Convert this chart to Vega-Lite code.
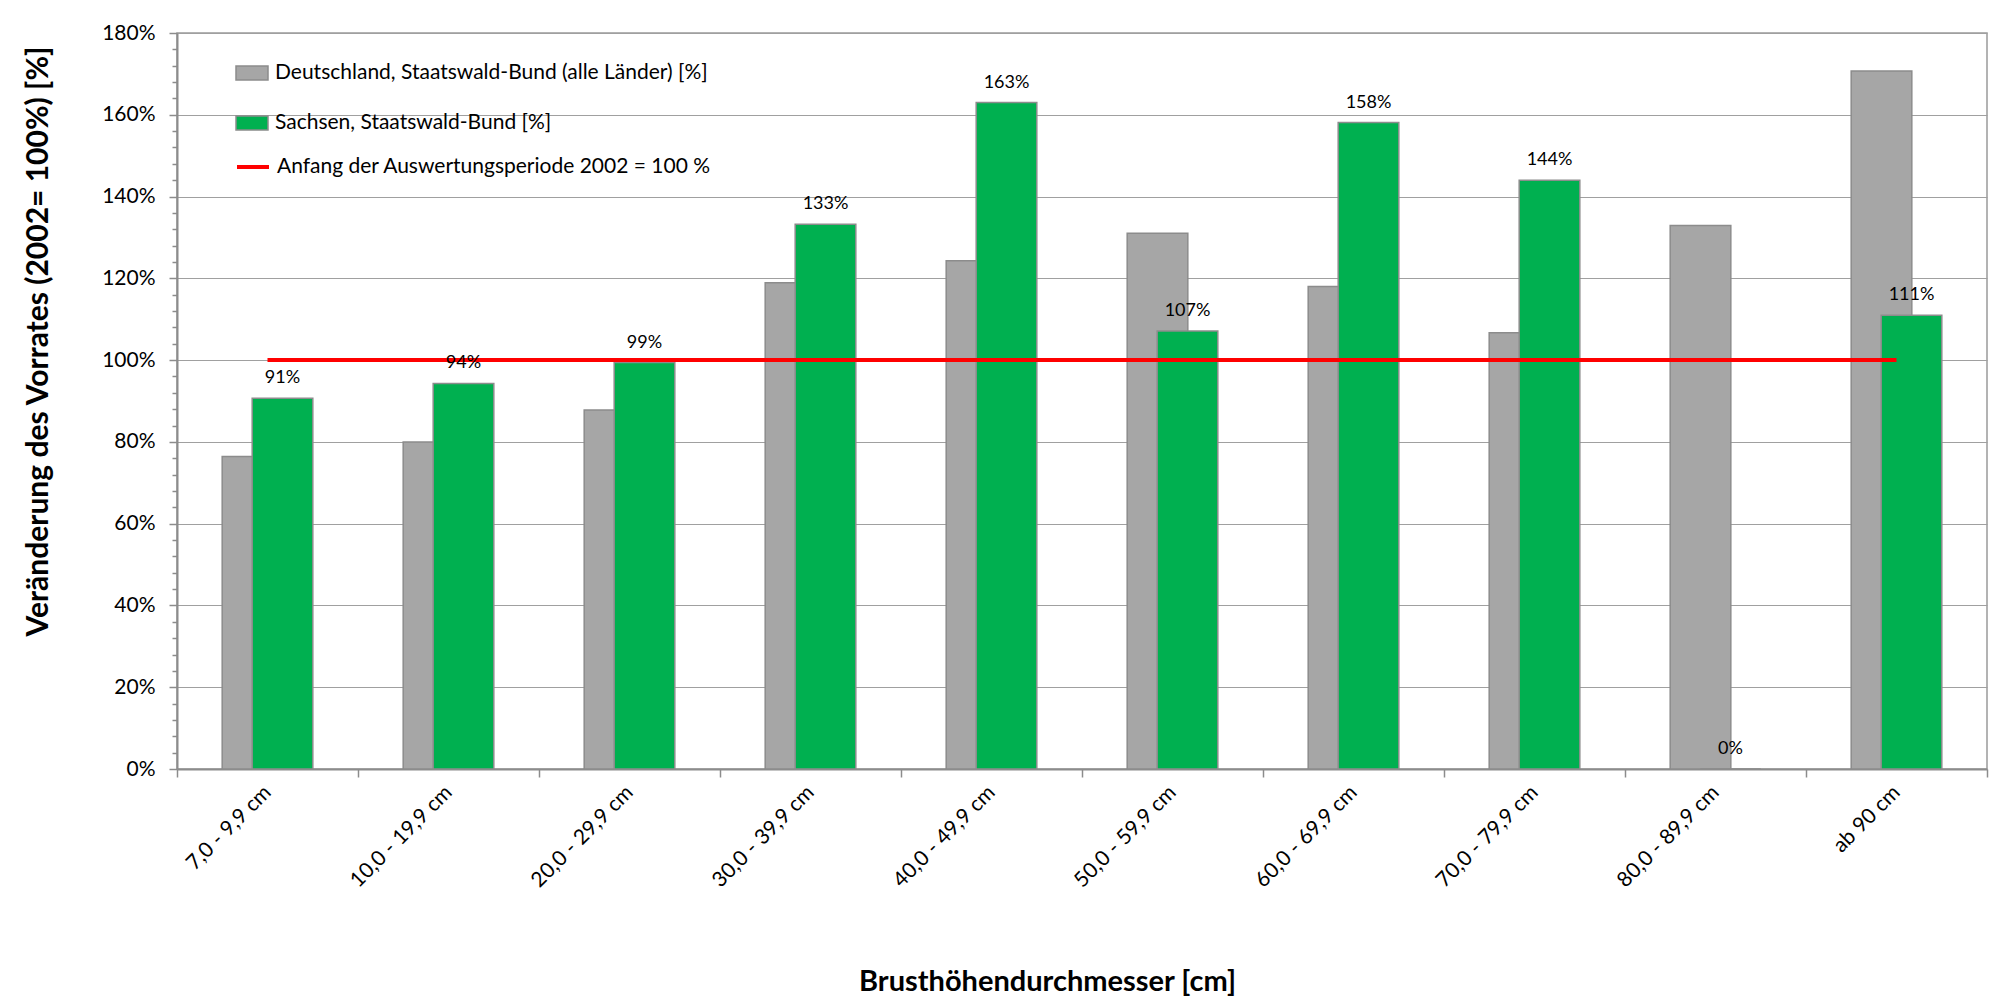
{
  "$schema": "https://vega.github.io/schema/vega-lite/v6.json",
  "autosize": {"type": "none"},
  "padding": {"left": 177, "top": 33, "right": 10, "bottom": 229},
  "width": 1810,
  "height": 736,
  "background": "white",
  "config": {
    "font": "Lato",
    "view": {"stroke": "#9a9a9a", "strokeWidth": 1.5}
  },
  "data": {
    "values": [
      {"klasse": "7,0 - 9,9 cm", "serie": "Deutschland, Staatswald-Bund (alle Länder) [%]", "wert": 0.764},
      {"klasse": "10,0 - 19,9 cm", "serie": "Deutschland, Staatswald-Bund (alle Länder) [%]", "wert": 0.800},
      {"klasse": "20,0 - 29,9 cm", "serie": "Deutschland, Staatswald-Bund (alle Länder) [%]", "wert": 0.878},
      {"klasse": "30,0 - 39,9 cm", "serie": "Deutschland, Staatswald-Bund (alle Länder) [%]", "wert": 1.189},
      {"klasse": "40,0 - 49,9 cm", "serie": "Deutschland, Staatswald-Bund (alle Länder) [%]", "wert": 1.243},
      {"klasse": "50,0 - 59,9 cm", "serie": "Deutschland, Staatswald-Bund (alle Länder) [%]", "wert": 1.310},
      {"klasse": "60,0 - 69,9 cm", "serie": "Deutschland, Staatswald-Bund (alle Länder) [%]", "wert": 1.180},
      {"klasse": "70,0 - 79,9 cm", "serie": "Deutschland, Staatswald-Bund (alle Länder) [%]", "wert": 1.067},
      {"klasse": "80,0 - 89,9 cm", "serie": "Deutschland, Staatswald-Bund (alle Länder) [%]", "wert": 1.329},
      {"klasse": "ab 90 cm", "serie": "Deutschland, Staatswald-Bund (alle Länder) [%]", "wert": 1.707},
      {"klasse": "7,0 - 9,9 cm", "serie": "Sachsen, Staatswald-Bund [%]", "wert": 0.907},
      {"klasse": "10,0 - 19,9 cm", "serie": "Sachsen, Staatswald-Bund [%]", "wert": 0.943},
      {"klasse": "20,0 - 29,9 cm", "serie": "Sachsen, Staatswald-Bund [%]", "wert": 0.994},
      {"klasse": "30,0 - 39,9 cm", "serie": "Sachsen, Staatswald-Bund [%]", "wert": 1.332},
      {"klasse": "40,0 - 49,9 cm", "serie": "Sachsen, Staatswald-Bund [%]", "wert": 1.630},
      {"klasse": "50,0 - 59,9 cm", "serie": "Sachsen, Staatswald-Bund [%]", "wert": 1.071},
      {"klasse": "60,0 - 69,9 cm", "serie": "Sachsen, Staatswald-Bund [%]", "wert": 1.581},
      {"klasse": "70,0 - 79,9 cm", "serie": "Sachsen, Staatswald-Bund [%]", "wert": 1.440},
      {"klasse": "80,0 - 89,9 cm", "serie": "Sachsen, Staatswald-Bund [%]", "wert": 0},
      {"klasse": "ab 90 cm", "serie": "Sachsen, Staatswald-Bund [%]", "wert": 1.1095},
      {"klasse": "7,0 - 9,9 cm", "serie": "Anfang der Auswertungsperiode 2002 = 100 %", "wert": 1},
      {"klasse": "10,0 - 19,9 cm", "serie": "Anfang der Auswertungsperiode 2002 = 100 %", "wert": 1},
      {"klasse": "20,0 - 29,9 cm", "serie": "Anfang der Auswertungsperiode 2002 = 100 %", "wert": 1},
      {"klasse": "30,0 - 39,9 cm", "serie": "Anfang der Auswertungsperiode 2002 = 100 %", "wert": 1},
      {"klasse": "40,0 - 49,9 cm", "serie": "Anfang der Auswertungsperiode 2002 = 100 %", "wert": 1},
      {"klasse": "50,0 - 59,9 cm", "serie": "Anfang der Auswertungsperiode 2002 = 100 %", "wert": 1},
      {"klasse": "60,0 - 69,9 cm", "serie": "Anfang der Auswertungsperiode 2002 = 100 %", "wert": 1},
      {"klasse": "70,0 - 79,9 cm", "serie": "Anfang der Auswertungsperiode 2002 = 100 %", "wert": 1},
      {"klasse": "80,0 - 89,9 cm", "serie": "Anfang der Auswertungsperiode 2002 = 100 %", "wert": 1},
      {"klasse": "ab 90 cm", "serie": "Anfang der Auswertungsperiode 2002 = 100 %", "wert": 1}
    ]
  },
  "encoding": {
    "x": {
      "field": "klasse",
      "type": "nominal",
      "sort": ["7,0 - 9,9 cm", "10,0 - 19,9 cm", "20,0 - 29,9 cm", "30,0 - 39,9 cm", "40,0 - 49,9 cm", "50,0 - 59,9 cm", "60,0 - 69,9 cm", "70,0 - 79,9 cm", "80,0 - 89,9 cm", "ab 90 cm"],
      "scale": {"paddingInner": 0, "paddingOuter": 0},
      "axis": {
        "title": "Brusthöhendurchmesser [cm]",
        "titleFont": "Lato",
        "titleFontSize": 29,
        "titleFontWeight": "bold",
        "titleColor": "#000000",
        "titleX": 870,
        "titleY": 212,
        "titleAlign": "center",
        "titleBaseline": "middle",
        "labelAngle": -45,
        "labelAlign": "right",
        "labelBaseline": "middle",
        "labelFont": "Lato",
        "labelFontSize": 21,
        "labelColor": "#000000",
        "labelPadding": 12,
        "labelOverlap": false,
        "labelLimit": 0,
        "tickBand": "extent",
        "tickSize": 8,
        "tickColor": "#8c8c8c",
        "tickWidth": 1.5,
        "domainColor": "#8c8c8c",
        "domainWidth": 2,
        "grid": false
      }
    },
    "y": {
      "field": "wert",
      "type": "quantitative",
      "scale": {"domain": [0, 1.8], "nice": false, "zero": true},
      "axis": {
        "title": "Veränderung des Vorrates (2002= 100%) [%]",
        "titleFont": "Lato",
        "titleFontSize": 30,
        "titleFontWeight": "bold",
        "titleColor": "#000000",
        "titleX": -139,
        "titleY": 308,
        "titleAlign": "center",
        "titleBaseline": "middle",
        "values": [0, 0.04, 0.08, 0.12, 0.16, 0.2, 0.24, 0.28, 0.32, 0.36, 0.4, 0.44, 0.48, 0.52, 0.56, 0.6, 0.64, 0.68, 0.72, 0.76, 0.8, 0.84, 0.88, 0.92, 0.96, 1, 1.04, 1.08, 1.12, 1.16, 1.2, 1.24, 1.28, 1.32, 1.36, 1.4, 1.44, 1.48, 1.52, 1.56, 1.6, 1.64, 1.68, 1.72, 1.76, 1.8],
        "labelExpr": "abs(datum.value*5 - round(datum.value*5)) < 0.01 ? format(datum.value, '.0%') : ''",
        "labelOverlap": false,
        "labelFont": "Lato",
        "labelFontSize": 21,
        "labelColor": "#000000",
        "labelPadding": 14,
        "tickSize": {"condition": {"test": "abs(datum.value*5 - round(datum.value*5)) < 0.01", "value": 8}, "value": 5},
        "tickColor": "#8c8c8c",
        "tickWidth": 1.5,
        "domainColor": "#8c8c8c",
        "domainWidth": 2,
        "grid": true,
        "gridColor": "#a0a0a0",
        "gridWidth": 1.2,
        "gridOpacity": {"condition": {"test": "abs(datum.value*5 - round(datum.value*5)) < 0.01", "value": 1}, "value": 0}
      }
    }
  },
  "layer": [
    {
      "transform": [{"filter": "indexof(datum.serie, 'Deutschland') === 0"}],
      "mark": {"type": "bar", "width": {"band": 0.335}, "xOffset": -15, "stroke": "#8c8c8c", "strokeWidth": 1.5, "opacity": 1},
      "encoding": {
        "color": {
          "field": "serie",
          "type": "nominal",
          "scale": {
            "domain": ["Deutschland, Staatswald-Bund (alle Länder) [%]", "Sachsen, Staatswald-Bund [%]"],
            "range": ["#a6a6a6", "#00b050"]
          },
          "legend": {
            "orient": "none",
            "legendX": 58,
            "legendY": 23,
            "title": null,
            "labelFont": "Lato",
            "labelFontSize": 21,
            "labelColor": "#000000",
            "labelOffset": 6,
            "labelLimit": 0,
            "rowPadding": 22,
            "symbolSize": 1024,
            "symbolType": "M-1,-0.44H1V0.44H-1Z",
            "symbolStrokeColor": "#8c8c8c",
            "symbolStrokeWidth": 1.5,
            "symbolOpacity": 1
          }
        }
      }
    },
    {
      "transform": [{"filter": "indexof(datum.serie, 'Sachsen') === 0"}],
      "mark": {"type": "bar", "width": {"band": 0.335}, "xOffset": 15, "stroke": "#8c8c8c", "strokeWidth": 1.5, "opacity": 1},
      "encoding": {
        "color": {"field": "serie", "type": "nominal"}
      }
    },
    {
      "transform": [{"filter": "indexof(datum.serie, 'Anfang') === 0"}],
      "mark": {"type": "line", "strokeWidth": 4, "opacity": 1},
      "encoding": {
        "stroke": {
          "field": "serie",
          "type": "nominal",
          "scale": {"domain": ["Anfang der Auswertungsperiode 2002 = 100 %"], "range": ["#ff0000"]},
          "legend": {
            "orient": "none",
            "legendX": 58,
            "legendY": 116,
            "title": null,
            "labelFont": "Lato",
            "labelFontSize": 21,
            "labelColor": "#000000",
            "labelOffset": 6,
            "labelLimit": 0,
            "symbolSize": 1024,
            "symbolType": "stroke",
            "symbolStrokeWidth": 4,
            "symbolOpacity": 1
          }
        }
      }
    },
    {
      "transform": [{"filter": "indexof(datum.serie, 'Sachsen') === 0"}],
      "mark": {"type": "text", "xOffset": 15, "dy": -20, "baseline": "middle", "align": "center", "font": "Lato", "fontSize": 18, "color": "#000000"},
      "encoding": {
        "text": {"field": "wert", "type": "quantitative", "format": ".0%"}
      }
    }
  ]
}
